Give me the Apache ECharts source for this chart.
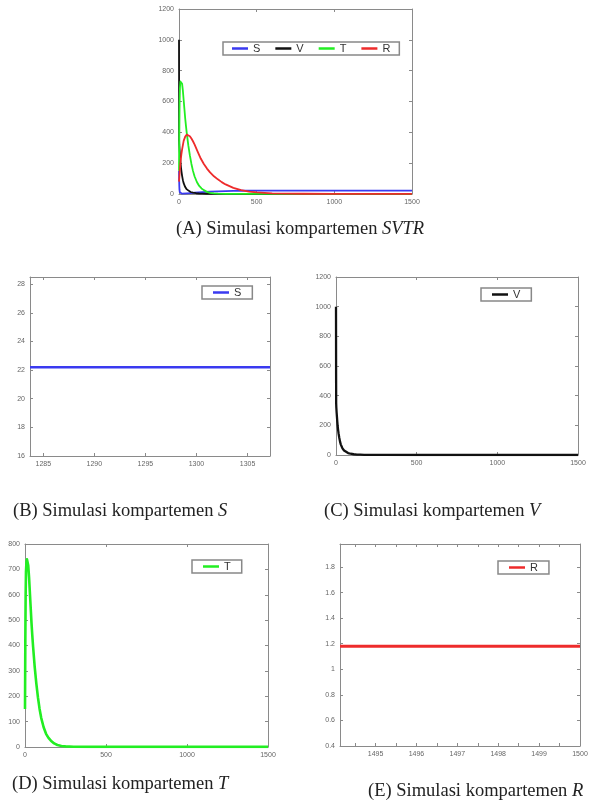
<!DOCTYPE html>
<html>
<head>
<meta charset="utf-8">
<script src="https://cdn.jsdelivr.net/npm/echarts@6/dist/echarts.min.js"></script>
<style>
html,body{margin:0;padding:0;background:#fff;}
#c{width:591px;height:812px;}
</style>
</head>
<body>
<div id="c"></div>
<script>
// ---------- data ----------
// Panel A: SVTR over 0..1500
const tS = [0, 1, 2, 3, 5, 7, 10, 15, 20, 30, 50, 75, 100, 150, 200, 250, 300, 350, 400, 500, 600, 800, 1000, 1500];
const sVals = [150, 90, 50, 28, 12, 6, 3, 2, 2, 2.5, 4, 6, 8, 12, 15, 17, 19, 20, 21, 22, 22.2, 22.2, 22.2, 22.2];
const tV = [0, 0.3, 0.6, 1, 2, 4, 6, 8, 10, 13, 16, 20, 25, 30, 40, 50, 60, 75, 90, 110, 130, 150, 175, 200, 250, 300, 500, 1000, 1500];
const vVals = [1000, 800, 550, 350, 320, 285, 255, 225, 200, 170, 145, 118, 90, 70, 45, 30, 21, 13, 8.5, 5, 3.2, 2.2, 1.5, 1, 0.5, 0.3, 0.1, 0.1, 0.1];
const tT = [0, 2, 4, 6, 9, 12, 16, 20, 25, 30, 35, 40, 45, 50, 60, 70, 80, 90, 100, 115, 130, 145, 160, 180, 200, 225, 250, 300, 400, 600, 1000, 1500];
const tVals = [150, 420, 600, 690, 730, 740, 735, 715, 670, 610, 550, 490, 440, 395, 315, 250, 195, 150, 115, 78, 52, 36, 25, 14, 8, 4, 2.5, 1, 0.4, 0.3, 0.3, 0.3];
const tR = [0, 5, 10, 15, 20, 30, 40, 50, 60, 70, 80, 90, 100, 120, 140, 160, 180, 200, 225, 250, 275, 300, 350, 400, 450, 500, 600, 700, 800, 1000, 1500];
const rVals = [80, 150, 210, 255, 290, 345, 372, 385, 383, 375, 360, 342, 322, 275, 230, 195, 165, 140, 115, 95, 77, 62, 40, 25, 16, 10, 4, 2.2, 1.5, 1.2, 1.18];
// Panel B: S zoomed
const tB = [1283.7, 1290, 1300, 1307.2];
const sB = [22.2, 22.2, 22.2, 22.2];
// Panel E: R zoomed
const tE = [1494.13, 1496, 1498, 1500];
const rE = [1.18, 1.18, 1.18, 1.18];

// tick labels
const xTicksFull = [0, 500, 1000, 1500];
const yTicksA = [0, 200, 400, 600, 800, 1000, 1200];
const yTicksD = [0, 100, 200, 300, 400, 500, 600, 700, 800];
const xTicksB = [1285, 1290, 1295, 1300, 1305];
const yTicksB = [16, 18, 20, 22, 24, 26, 28];
const xTicksE = [1495, 1496, 1497, 1498, 1499, 1500];
const xMinorE = [1494.5, 1495, 1495.5, 1496, 1496.5, 1497, 1497.5, 1498, 1498.5, 1499, 1499.5, 1500];
const yTicksE = [0.4, 0.6, 0.8, 1, 1.2, 1.4, 1.6, 1.8];

const captions = [
  { pre: '(A) Simulasi kompartemen ', it: 'SVTR', x: 176, y: 230 },
  { pre: '(B) Simulasi kompartemen ', it: 'S', x: 13, y: 512 },
  { pre: '(C) Simulasi kompartemen ', it: 'V', x: 324, y: 512 },
  { pre: '(D) Simulasi kompartemen ', it: 'T', x: 12, y: 785 },
  { pre: '(E) Simulasi kompartemen ', it: 'R', x: 368, y: 792 }
];

// ---------- helpers ----------
const zip = (a, b) => a.map((v, i) => [v, b[i]]);
const COL = { S: '#3a3af0', V: '#111111', T: '#22ee22', R: '#ee2b2b' };
const AX = '#8a8a8a';
const LBL = { color: '#666', fontSize: 7, fontFamily: 'Liberation Sans, Arial, sans-serif', margin: 5,
  formatter: v => String(v) };

const grids = [
  { left: 179, top: 9, width: 233, height: 185 },
  { left: 30, top: 277, width: 240, height: 179 },
  { left: 336, top: 277, width: 242, height: 178 },
  { left: 25, top: 544, width: 243, height: 203 },
  { left: 340, top: 544, width: 240, height: 202 }
];

const axSpec = [
  { x: [0, 1500, xTicksFull, xTicksFull], y: [0, 1200, yTicksA, yTicksA] },
  { x: [1283.7, 1307.2, xTicksB, xTicksB], y: [16, 28.5, yTicksB, yTicksB] },
  { x: [0, 1500, xTicksFull, xTicksFull], y: [0, 1200, yTicksA, yTicksA] },
  { x: [0, 1500, xTicksFull, xTicksFull], y: [0, 800, yTicksD, yTicksD] },
  { x: [1494.13, 1500, xTicksE, xMinorE], y: [0.4, 1.98, yTicksE, yTicksE] }
];

const xAxis = [], yAxis = [];
axSpec.forEach((s, g) => {
  const mk = (spec, pos, showLabel) => ({
    type: 'value', gridIndex: g, position: pos,
    min: spec[0], max: spec[1],
    axisLine: { show: true, onZero: false, lineStyle: { color: AX, width: 1 } },
    axisTick: { show: true, inside: true, length: 3, customValues: spec[3], lineStyle: { color: AX } },
    axisLabel: Object.assign({ show: showLabel, customValues: spec[2] }, LBL),
    splitLine: { show: false }
  });
  xAxis.push(mk(s.x, 'bottom', true));
  xAxis.push(mk(s.x, 'top', false));
  yAxis.push(mk(s.y, 'left', true));
  yAxis.push(mk(s.y, 'right', false));
});

const line = (name, data, g, w) => ({
  name, type: 'line', data, xAxisIndex: g * 2, yAxisIndex: g * 2,
  showSymbol: false, smooth: false,
  lineStyle: { color: COL[name], width: w, join: 'round', cap: 'butt' }, itemStyle: { color: COL[name] },
  animation: false
});

const series = [
  line('S', zip(tS, sVals), 0, 1.8),
  line('V', zip(tV, vVals), 0, 1.8),
  line('T', zip(tT, tVals), 0, 1.8),
  line('R', zip(tR, rVals), 0, 1.8),
  line('S', zip(tB, sB), 1, 2.6),
  line('V', zip(tV, vVals), 2, 2.3),
  line('T', zip(tT, tVals), 3, 2.6),
  line('R', zip(tE, rE), 4, 3)
];

const legBase = {
  orient: 'horizontal', icon: 'rect', itemWidth: 16, itemHeight: 2.5,
  borderColor: '#888', borderWidth: 1.5, backgroundColor: '#fff',
  textStyle: { color: '#333', fontSize: 11, fontFamily: 'Liberation Sans, Arial, sans-serif' },
  itemGap: 15, selectedMode: false
};
const legends = [
  Object.assign({}, legBase, { data: ['S', 'V', 'T', 'R'], left: 223, top: 42, padding: [1, 9] }),
  Object.assign({}, legBase, { data: ['S'], left: 202, top: 286, padding: [1, 11] }),
  Object.assign({}, legBase, { data: ['V'], left: 481, top: 288, padding: [1, 11] }),
  Object.assign({}, legBase, { data: ['T'], left: 192, top: 560, padding: [1, 11] }),
  Object.assign({}, legBase, { data: ['R'], left: 498, top: 561, padding: [1, 11] })
];

const capFont = 'Liberation Serif, Times New Roman, serif';
const graphic = captions.map(c => ({
  type: 'text', left: c.x, top: c.y - 10,
  style: {
    text: '{n|' + c.pre + '}{i|' + c.it + '}',
    rich: {
      n: { fontFamily: capFont, fontSize: 18.5, fill: '#222', color: '#222' },
      i: { fontFamily: capFont, fontSize: 18.5, fontStyle: 'italic', fill: '#222', color: '#222' }
    }
  }
}));

const chart = echarts.init(document.getElementById('c'), null, { renderer: 'canvas' });
chart.setOption({
  animation: false,
  backgroundColor: '#fff',
  grid: grids,
  xAxis, yAxis, series,
  legend: legends,
  graphic
});
</script>
</body>
</html>
